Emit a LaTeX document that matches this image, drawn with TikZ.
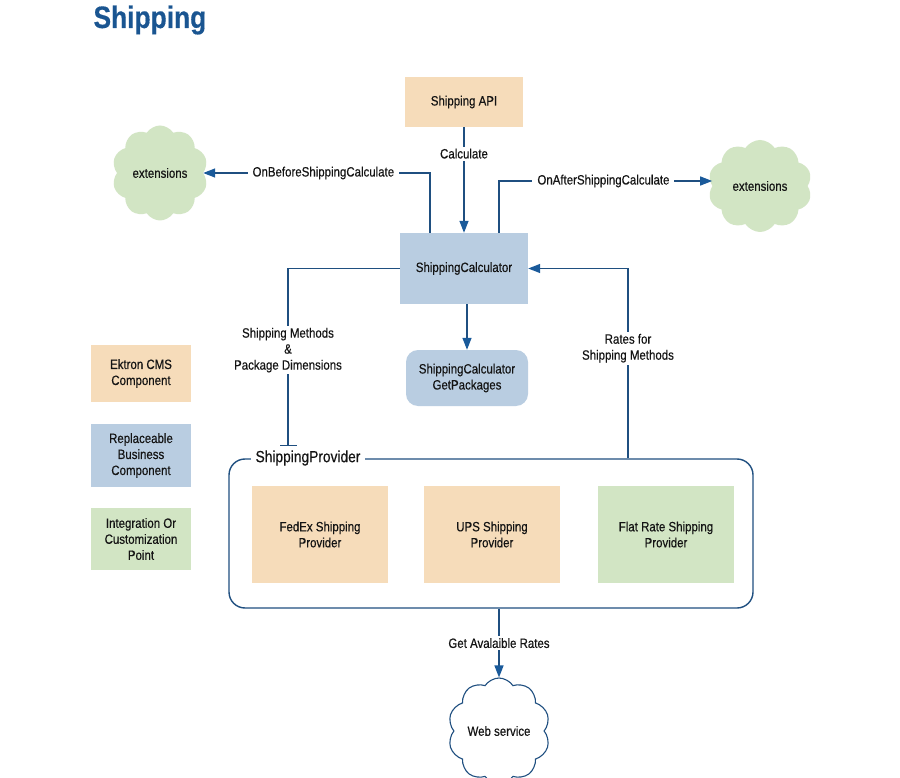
\documentclass[tikz,border=0pt]{standalone}
\usepackage{fontspec}
\setmainfont{Liberation Sans}
\newfontfamily\diafont[FakeStretch=0.85,FakeBold=0.4]{Liberation Sans}
\usetikzlibrary{arrows.meta,shapes.symbols}

\definecolor{cmsorange}{HTML}{F6DCBA}
\definecolor{bizblue}{HTML}{B9CDE1}
\definecolor{custgreen}{HTML}{D2E5C4}
\definecolor{linkblue}{HTML}{1F4F80}
\definecolor{tipblue}{HTML}{1A5A9A}
\definecolor{titleblue}{HTML}{1A5591}
\definecolor{txtblack}{HTML}{141414}

\tikzset{
	every node/.style={font=\diafont\fontsize{13.5}{16}\selectfont, text=txtblack, align=center},
	comp/.style={rectangle, inner sep=2pt},
	cloudy/.style={cloud, cloud puffs=10, cloud puff arc=115, aspect=1, inner sep=0pt},
	flow/.style={draw=linkblue, line width=1.3pt},
	tip/.style={-{Triangle[length=12pt,width=9pt,color=tipblue]}},
	lbl/.style={fill=white, inner xsep=5pt, inner ysep=2pt},
}

\begin{document}
\begin{tikzpicture}[x=1pt,y=-1pt]
			%%%%% START %%%%%
			
			\fill[white] (0,0) rectangle (900,778);
			\useasboundingbox (0,0) rectangle (900,778);
			
			\node[anchor=base west, font=\diafont\bfseries\fontsize{31}{34}\selectfont, text=titleblue] (title) at (90,28) {Shipping};
			
			% main flow
			\node[comp, fill=cmsorange, minimum width=118, minimum height=50] (api) at (464,102) {Shipping API};
			\node[comp, fill=bizblue, minimum width=128, minimum height=71] (calc) at (464,268.5) {ShippingCalculator};
			\node[comp, fill=bizblue, rounded corners=12, minimum width=122, minimum height=56] (pkg) at (467,378) {ShippingCalculator\\GetPackages};
			
			\node[cloudy, fill=custgreen, minimum width=96, minimum height=95] (extL) at (160,173) {extensions};
			\node[cloudy, fill=custgreen, minimum width=104, minimum height=92] (extR) at (760,186) {extensions};
			
			% provider group
			\node[draw=linkblue, line width=1.4pt, rounded corners=16, minimum width=524, minimum height=149] (prov) at (491,533.5) {};
			\node[comp, fill=cmsorange, minimum width=136, minimum height=97] (fedex) at (320,534.5) {FedEx Shipping\\Provider};
			\node[comp, fill=cmsorange, minimum width=136, minimum height=97] (ups) at (492,534.5) {UPS Shipping\\Provider};
			\node[comp, fill=custgreen, minimum width=136, minimum height=97] (flat) at (666,534.5) {Flat Rate Shipping\\Provider};
			\node[lbl, font=\diafont\fontsize{16.2}{18}\selectfont] (provlbl) at (308,458) {ShippingProvider};
			
			\node[cloudy, draw=linkblue, line width=1.1pt, fill=white, minimum width=102, minimum height=106] (web) at (499,731) {Web service};
			
			% legend
			\node[comp, fill=cmsorange, minimum width=100, minimum height=57] (lgcms) at (141,373.5) {Ektron CMS\\Component};
			\node[comp, fill=bizblue, minimum width=100, minimum height=63] (lgbiz) at (141,455.5) {Replaceable\\Business\\Component};
			\node[comp, fill=custgreen, minimum width=100, minimum height=62] (lgcust) at (141,539) {Integration Or\\Customization\\Point};
			
			% connectors
			\coordinate (spin) at (288,446);
			
			\draw[flow, tip] (api) -- node[lbl, pos=0.25] {Calculate} (calc);
			\draw[flow, tip] ([xshift=-34]calc.north) |- node[lbl, pos=0.735] {OnBeforeShippingCalculate} (extL);
			\draw[flow, tip] ([xshift=35]calc.north) |- node[lbl, pos=0.745] {OnAfterShippingCalculate} ([yshift=5]extR.west);
			\draw[flow, tip] (pkg.north |- calc.south) -- (pkg.north);
			\draw[flow, -{Bar[width=17pt]}] (calc.west) -| node[lbl, pos=0.73] {Shipping Methods\\\&\\Package Dimensions} (spin);
			\draw[flow, tip] ([xshift=137]prov.north) |- node[lbl, pos=0.29] {Rates for\\Shipping Methods} (calc.east);
			\draw[flow, tip] ([xshift=8]prov.south) -- node[lbl] {Get Avalaible Rates} (web);
			
			%%%%% END %%%%%
\end{tikzpicture}
\end{document}
